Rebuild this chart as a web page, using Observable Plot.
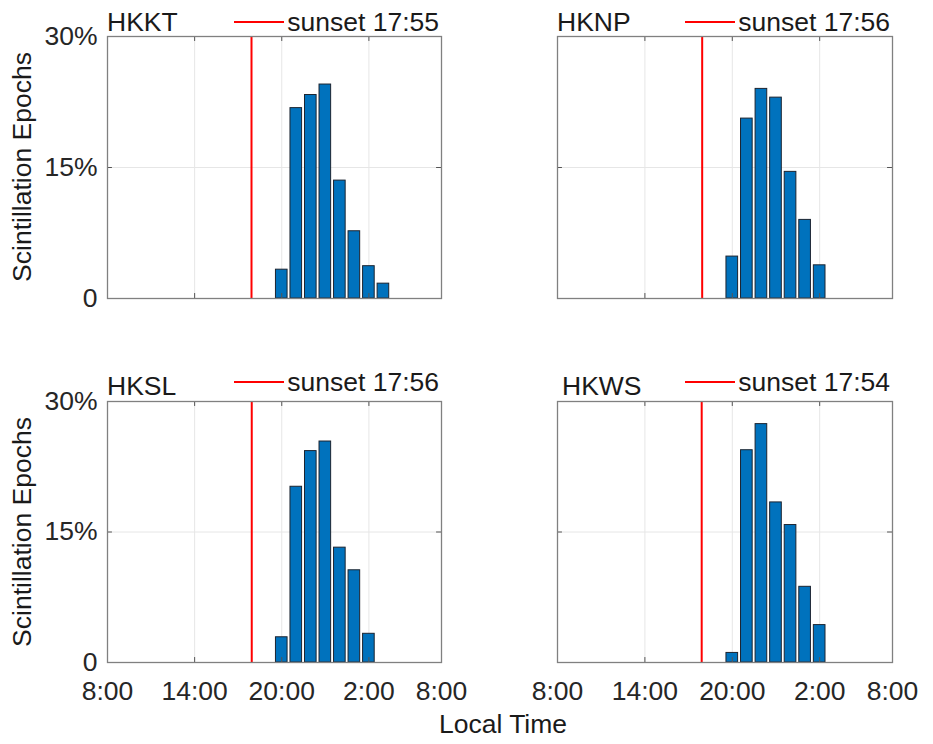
<!DOCTYPE html>
<html><head><meta charset="utf-8">
<script src="https://cdn.jsdelivr.net/npm/d3@7"></script>
<script src="https://cdn.jsdelivr.net/npm/@observablehq/plot@0.6"></script>
<style>
body{margin:0;background:#fff;}
#fig{position:relative;width:933px;height:744px;font-family:"Liberation Sans",Arial,sans-serif;color:#262626;overflow:hidden;background:#fff}
#fig svg{position:absolute;overflow:visible}
.abs{position:absolute;white-space:nowrap;line-height:26px;font-size:26.5px;color:#1a1a1a}
.leg{display:flex;align-items:center}
.leg .ln{width:50px;height:2px;background:#ff0000;margin-right:3px}
.ylab{transform:translate(-50%,-50%) rotate(-90deg);line-height:26px;font-size:26.5px}
</style></head><body><div id="fig"></div>
<script>
// ---- data ----
const stations = ["HKKT", "HKNP", "HKSL", "HKWS"];
const sunsetTimes = ["17:55", "17:56", "17:56", "17:54"];
const binHoursKT = [20, 21, 22, 23, 0, 1, 2, 3];
const binHoursNP = [20, 21, 22, 23, 0, 1, 2];
const binHoursSL = [20, 21, 22, 23, 0, 1, 2];
const binHoursWS = [20, 21, 22, 23, 0, 1, 2];
const valuesKT = [3.3, 21.8, 23.3, 24.5, 13.5, 7.7, 3.7, 1.7];
const valuesNP = [4.8, 20.6, 24.0, 23.0, 14.5, 9.0, 3.8];
const valuesSL = [2.9, 20.2, 24.3, 25.4, 13.2, 10.6, 3.3];
const valuesWS = [1.1, 24.4, 27.4, 18.4, 15.8, 8.7, 4.3];
const xTickHours = [0, 6, 12, 18, 23];          // hours after 8:00
const xTickLabels = ["8:00", "14:00", "20:00", "2:00", "8:00"];
const yTicks = [0, 15, 30];
const yTickLabels = ["0", "15%", "30%"];
const yLabel = "Scintillation Epochs";
const xLabel = "Local Time";

const binHours = [binHoursKT, binHoursNP, binHoursSL, binHoursWS];
const values = [valuesKT, valuesNP, valuesSL, valuesWS];

// ---- layout ----
const colLeft = [107, 557], colRight = [441, 892];
const rowTop = [36, 401], rowBottom = [298, 662];
const fig = document.getElementById("fig");
const font = '"Liberation Sans", Arial, sans-serif';

function addDiv(cls, html, css) {
  const d = document.createElement("div");
  d.className = cls;
  d.innerHTML = html;
  Object.assign(d.style, css);
  fig.appendChild(d);
  return d;
}

for (let i = 0; i < 4; i++) {
  const col = i % 2, row = Math.floor(i / 2);
  const fl = colLeft[col], fr = colRight[col], ft = rowTop[row], fb = rowBottom[row];
  const mL = col === 0 ? fl : 20, mR = 20, mT = 10, mB = row === 1 ? 50 : 10;
  const width = (fr - fl) + mL + mR, height = (fb - ft) + mT + mB;
  const data = binHours[i].map((h, k) => ({x: (h + 24 - 8) % 24, v: values[i][k]}));
  const [sh, sm] = sunsetTimes[i].split(":").map(Number);
  const sunset = sh + sm / 60 - 8;
  const tx = 0.34, ty = 0.57; // inner tick length in data units (~5px)
  const inner = xTickHours.slice(1, -1);
  const p = Plot.plot({
    width, height, marginLeft: mL, marginRight: mR, marginTop: mT, marginBottom: mB,
    style: {fontFamily: font, fontSize: "26.5px", color: "#262626", background: "transparent"},
    x: {domain: [0, 23], ticks: xTickHours, tickFormat: d => xTickLabels[xTickHours.indexOf(d)],
        tickSize: 0, tickPadding: 19, label: null, axis: row === 1 ? "bottom" : null},
    y: {domain: [0, 30], ticks: yTicks, tickFormat: d => yTickLabels[yTicks.indexOf(d)],
        tickSize: 0, tickPadding: 10, label: null, axis: col === 0 ? "left" : null},
    marks: [
      Plot.ruleX(inner, {stroke: "#e6e6e6", strokeWidth: 1}),
      Plot.ruleY([15], {stroke: "#e6e6e6", strokeWidth: 1}),
      Plot.rect(data, {x1: d => d.x - 0.4, x2: d => d.x + 0.4, y1: 0, y2: "v",
        fill: "#0072BD", stroke: "#1c2430", strokeWidth: 1}),
      Plot.ruleX([sunset], {stroke: "#ff0000", strokeWidth: 2}),
      Plot.ruleX(inner, {y1: 0, y2: ty, stroke: "#555", strokeWidth: 1}),
      Plot.ruleX(inner, {y1: 30 - ty, y2: 30, stroke: "#555", strokeWidth: 1}),
      Plot.ruleY([15], {x1: 0, x2: tx, stroke: "#555", strokeWidth: 1}),
      Plot.ruleY([15], {x1: 23 - tx, x2: 23, stroke: "#555", strokeWidth: 1}),
      Plot.frame({stroke: "#808080", strokeWidth: 1.3})
    ]
  });
  p.style.left = (fl - mL) + "px";
  p.style.top = (ft - mT) + "px";
  fig.appendChild(p);

  // title
  const titleBase = row === 0 ? 31.5 : 395.5;
  addDiv("abs", stations[i], {left: (fl + (i === 3 ? 5 : 0)) + "px", top: (titleBase - 22.5) + "px"});
  // legend
  const legBase = row === 0 ? 31.5 : 391.5;
  addDiv("abs leg", '<span class="ln"></span><span>sunset ' + sunsetTimes[i] + '</span>',
    {right: (933 - fr + 2) + "px", top: (legBase - 22.5) + "px"});
  // y label
  if (col === 0) {
    addDiv("abs ylab", yLabel, {left: "22px", top: ((ft + fb) / 2) + "px"});
  }
}
addDiv("abs", xLabel, {left: "503px", top: "714px", lineHeight: "20px", transform: "translateX(-50%)"});
</script></body></html>
